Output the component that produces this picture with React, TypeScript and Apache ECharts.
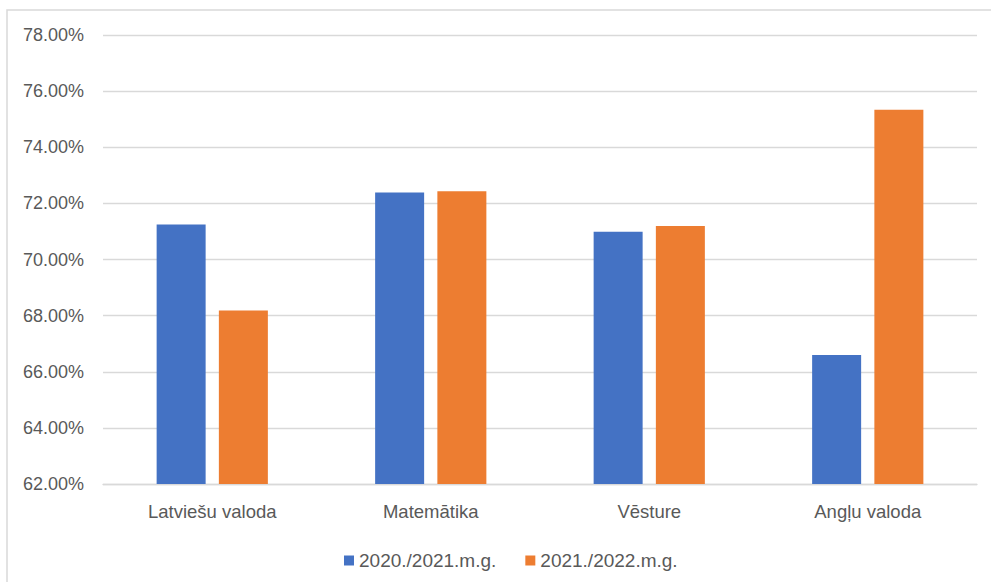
import React, { useEffect, useRef } from "react";
import * as echarts from "echarts";

const categories = ["Latviešu valoda", "Matemātika", "Vēsture", "Angļu valoda"];
const seriesNames = ["2020./2021.m.g.", "2021./2022.m.g."];
const values2021 = [71.25, 72.39, 70.99, 66.6];
const values2022 = [68.18, 72.43, 71.19, 75.34];
const yMin = 62;
const yMax = 78;
const yInterval = 2;

const FONT = "'Liberation Sans', Arial, sans-serif";
const TEXT_COLOR = "#595959";
const GRID_COLOR = "#d9d9d9";

export default function App() {
  const ref = useRef<HTMLDivElement>(null);

  useEffect(() => {
    if (!ref.current) return;
    const chart = echarts.init(ref.current, undefined, { renderer: "svg" });
    chart.setOption({
      animation: false,
      backgroundColor: "#ffffff",
      textStyle: { fontFamily: FONT },
      graphic: [
        {
          type: "rect",
          shape: { x: 7, y: 10, width: 1200, height: 800 },
          style: { fill: "none", stroke: GRID_COLOR, lineWidth: 1.5 },
          silent: true,
          z: -1,
        },
      ],
      grid: { left: 103, right: 14, top: 35, bottom: 98, containLabel: false },
      legend: {
        data: seriesNames,
        left: 339,
        top: 546,
        icon: "rect",
        itemWidth: 10,
        itemHeight: 10,
        itemGap: 29,
        textStyle: { fontFamily: FONT, fontSize: 19, color: TEXT_COLOR, padding: [0, 0, 0, 0] },
      },
      xAxis: {
        type: "category",
        data: categories,
        axisLine: { show: true, lineStyle: { color: GRID_COLOR, width: 1.3 } },
        axisTick: { show: false },
        axisLabel: { fontFamily: FONT, fontSize: 18.5, color: TEXT_COLOR, margin: 18 },
      },
      yAxis: {
        type: "value",
        min: yMin,
        max: yMax,
        interval: yInterval,
        axisLine: { show: false },
        axisTick: { show: false },
        splitLine: { lineStyle: { color: GRID_COLOR, width: 1.3 } },
        axisLabel: {
          fontFamily: FONT,
          fontSize: 18,
          color: TEXT_COLOR,
          margin: 19,
          formatter: (v: number) => v.toFixed(2) + "%",
        },
      },
      series: [
        {
          name: seriesNames[0],
          type: "bar",
          data: values2021,
          barWidth: 49,
          barGap: "27%",
          itemStyle: { color: "#4472C4" },
        },
        {
          name: seriesNames[1],
          type: "bar",
          data: values2022,
          barWidth: 49,
          barGap: "27%",
          itemStyle: { color: "#ED7D31" },
        },
      ],
    });
    return () => chart.dispose();
  }, []);

  return (
    <div
      ref={ref}
      style={{ position: "fixed", left: 0, top: 0, width: 991, height: 582 }}
    />
  );
}
